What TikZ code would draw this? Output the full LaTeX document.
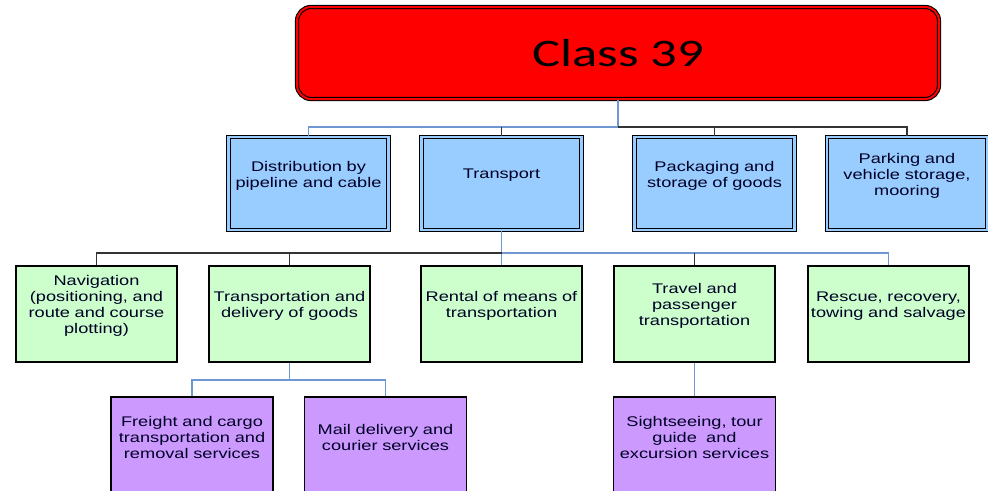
\documentclass[tikz,border=0pt]{standalone}
\usepackage{fontspec}
\setmainfont{Liberation Sans}[FakeStretch=1.3]
\newfontfamily\classfont{Carlito}[FakeStretch=1.35]
\usetikzlibrary{positioning}
\definecolor{cred}{rgb}{1, 0, 0}
\definecolor{cblue}{HTML}{99CCFF}
\definecolor{cgreen}{HTML}{CCFFCC}
\definecolor{cpurple}{HTML}{CC99FF}
\definecolor{lblue}{HTML}{6F98D2}
\definecolor{ldark}{HTML}{333333}
\newcommand{\boxgap}{\endgraf\kern16pt}

\begin{document}
\begin{tikzpicture}[x=1pt, y=-1pt,
    box/.style={draw=black, line width=1.3pt, text width=#1, align=center,
      inner xsep=0pt, minimum height=96pt, text=black!85!blue,
      font=\fontsize{14}{16}\selectfont,
      execute at end node=\boxgap},
    topbox/.style={draw=black, fill=cred, double=cred, double distance=2pt,
      line width=1.1pt, rounded corners=14pt, minimum width=642pt,
      minimum height=92pt, font=\classfont\fontsize{39}{44}\selectfont},
    groupbox/.style={box=160pt, fill=cblue, double=cblue,
      double distance=2.4pt, line width=1.1pt, minimum height=93pt},
    itembox/.style={box=161pt, fill=cgreen},
    subbox/.style={box=162pt, fill=cpurple},
    bluelink/.style={draw=lblue, line width=1.4pt},
    darklink/.style={draw=ldark, line width=1.4pt}]
  \useasboundingbox (0, 0) rectangle (988, 490);
  \clip (0, 0) rectangle (988, 490);

  \node [topbox] (class) at (618, 53) {Class 39};

  \node [groupbox] (dist) at (308.5, 183.5) {Distribution by\\pipeline and cable};
  \node [groupbox] (trans) at (501.5, 183.5) {Transport};
  \node [groupbox] (pack) at (714.5, 183.5) {Packaging and\\storage of goods};
  \node [groupbox] (park) at (907, 183.5) {Parking and\\vehicle storage,\\mooring};

  \node [itembox] (nav) at (96.5, 314) {Navigation\\(positioning, and\\route and course\\plotting)};
  \node [itembox] (deliv) at (289.5, 314) {Transportation and\\delivery of goods};
  \node [itembox] (rent) at (501.5, 314) {Rental of means of\\transportation};
  \node [itembox] (travel) at (694.5, 314) {Travel and\\passenger\\transportation};
  \node [itembox] (rescue) at (888.5, 314) {Rescue, recovery,\\towing and salvage};

  \node [subbox] (freight) at (192, 445) {Freight and cargo\\transportation and\\removal services};
  \node [subbox] (mail) at (385.5, 445) {Mail delivery and\\courier services};
  \node [subbox] (sight) at (694.5, 445) {Sightseeing, tour\\guide\ \ and\\excursion services};

  \coordinate (bus1) at (618, 127);
  \coordinate (bus2) at (501.5, 253);
  \coordinate (bus3) at (289.5, 380);

  \draw [bluelink] (class.south) -- (bus1) -| (dist.north);
  \draw [darklink] (bus1) -| (park.north);
  \draw [darklink] (trans.north) -- (trans.north |- bus1);
  \draw [darklink] (pack.north) -- (pack.north |- bus1);

  \draw [bluelink] (trans.south) -- (rent.north);
  \draw [bluelink] (bus2) -| (rescue.north);
  \draw [darklink] (bus2) -| (nav.north);
  \draw [darklink] (deliv.north) -- (deliv.north |- bus2);
  \draw [darklink] (travel.north) -- (travel.north |- bus2);

  \draw [bluelink] (deliv.south) -- (bus3) -| (freight.north);
  \draw [bluelink] (bus3) -| (mail.north);
  \draw [bluelink] (travel.south) -- (sight.north);
\end{tikzpicture}
\end{document}
